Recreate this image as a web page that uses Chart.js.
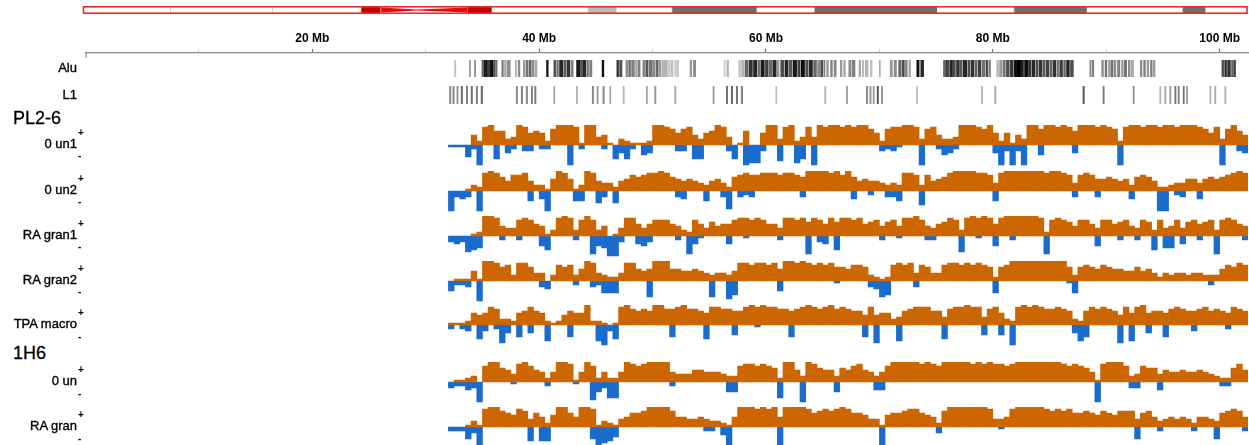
<!DOCTYPE html>
<html>
<head>
<meta charset="utf-8">
<title>Chromosome 15 signal tracks</title>
<script src="https://cdn.jsdelivr.net/npm/chart.js@4.4.1/dist/chart.umd.min.js"></script>
<style>
  html, body { margin: 0; padding: 0; background: #fff; }
  #page { position: relative; width: 1249px; height: 445px; overflow: hidden;
          font-family: "Liberation Sans", Arial, sans-serif; color: #000; }
  #page canvas { position: absolute; left: 0; }
  .lbl  { position: absolute; right: 1172px; font-size: 13px; line-height: 16px; white-space: nowrap;
          -webkit-text-stroke: 0.35px #000; }
  .sign { position: absolute; left: 78px; font-size: 10px; font-weight: bold; line-height: 10px; }
  .group { position: absolute; left: 13px; font-size: 18px; line-height: 22px; white-space: nowrap;
           -webkit-text-stroke: 0.3px #000; }
</style>
</head>
<body>
<div id="page"></div>
<script>
// ---- genome coordinates (Mb) ----
const X_MAX = 102.5;
const BIN_START = 32;      // first signal bin start
const BIN_SIZE = 0.5;      // signal bin width

// ---- axis ----
const axisStepMb = 10;
const axisLabelMb = [20, 40, 60, 80, 100];

// ---- ideogram bands [start, end, stain] ----
const ideoBands = [
  [0, 7.6, 'gneg'], [7.6, 16.6, 'gneg'], [16.6, 24.4, 'gneg'],
  [24.4, 26.15, 'acen'], [26.15, 29.3, 'acenTaper'], [29.3, 33.75, 'acenWiden'], [33.75, 35.95, 'acen'],
  [35.95, 44.4, 'gneg'], [44.4, 46.95, 'gpos25'], [46.95, 51.8, 'gneg'], [51.8, 59.3, 'gpos75'],
  [59.3, 64.35, 'gneg'], [64.35, 75.2, 'gpos75'], [75.2, 81.95, 'gneg'], [81.95, 88.4, 'gpos75'],
  [88.4, 96.8, 'gneg'], [96.8, 98.85, 'gpos75'], [98.85, 102.5, 'gneg']
];

// ---- repeat density features [start, end, density 0..1] ----
const aluFeatures = [
  [32.55,32.65,0.25],[33.85,33.95,0.4],[34.3,34.4,0.45],
  [34.95,35.1,0.6],[35.15,35.45,0.9],[35.5,35.65,0.75],[35.7,35.95,0.95],[36.0,36.1,0.7],[36.15,36.3,0.55],
  [36.7,36.85,0.5],[36.95,37.1,0.35],[37.2,37.45,0.45],[37.9,38.0,0.3],[38.15,38.3,0.45],
  [38.6,38.75,0.4],[38.85,39.0,0.55],[39.1,39.3,0.6],[39.4,39.55,0.45],[39.65,39.8,0.35],
  [40.65,40.8,0.9],
  [41.3,41.45,0.7],[41.55,41.7,0.55],[41.8,42.1,0.85],[42.2,42.35,0.65],[42.45,42.7,0.8],[42.8,43.0,0.5],
  [43.3,43.6,0.9],[43.65,43.8,0.7],[43.85,44.1,0.85],[44.2,44.35,0.55],[44.45,44.65,0.5],
  [45.55,45.7,0.95],[46.85,47.0,0.8],[47.1,47.3,0.7],
  [47.65,47.8,0.45],[47.9,48.05,0.6],[48.15,48.4,0.5],[48.5,48.6,0.35],[48.7,48.9,0.5],
  [49.15,49.3,0.5],[49.4,49.6,0.65],[49.7,49.95,0.55],[50.0,50.2,0.45],[50.3,50.5,0.6],[50.6,50.75,0.4],[50.85,51.3,0.3],
  [51.35,51.5,0.2],[51.6,51.8,0.25],[51.95,52.3,0.2],
  [53.3,53.45,0.4],[53.6,53.8,0.45],[56.3,56.4,0.2],[56.55,56.7,0.3],
  [57.6,57.75,0.25],[57.85,58.05,0.3],[58.15,58.4,0.6],[58.5,58.8,0.8],[58.9,59.2,0.85],[59.3,59.45,0.55],
  [59.55,59.85,0.9],[59.95,60.2,0.75],[60.3,60.5,0.6],[60.6,60.9,0.85],[61.0,61.15,0.4],[61.3,61.6,0.7],
  [61.7,61.95,0.85],[62.05,62.3,0.65],[62.4,62.7,0.9],[62.8,63.0,0.75],[63.1,63.4,0.95],[63.5,63.7,0.7],
  [63.8,64.1,0.85],[64.2,64.45,0.6],[64.55,64.8,0.45],
  [64.85,65.0,0.7],[65.1,65.2,0.5],[65.35,65.5,0.4],[65.7,65.85,0.5],[66.0,66.2,0.45],[66.55,66.7,0.4],
  [66.85,67.0,0.35],[67.3,67.5,0.45],[67.6,67.85,0.5],[68.2,68.35,0.35],[68.5,68.6,0.3],[68.75,69.0,0.3],
  [69.2,69.35,0.25],[70.0,70.08,0.35],[70.95,71.15,0.4],[71.3,71.5,0.45],[71.7,71.9,0.6],[72.0,72.2,0.7],
  [72.3,72.45,0.5],[72.6,72.75,0.35],[73.3,73.5,0.95],[73.65,73.9,0.85],
  [75.65,75.85,0.6],[75.9,76.1,0.75],[76.2,76.45,0.85],[76.5,76.7,0.7],[76.8,77.05,0.8],[77.1,77.3,0.65],
  [77.4,77.7,0.85],[77.8,78.0,0.7],[78.1,78.35,0.8],[78.45,78.6,0.6],[78.7,78.95,0.75],[79.05,79.3,0.55],
  [79.4,79.55,0.7],[79.65,79.8,0.5],
  [80.35,80.5,0.3],[80.6,80.8,0.4],[80.9,81.1,0.55],[81.2,81.45,0.7],[81.55,81.8,0.8],[81.9,82.1,0.95],
  [82.15,82.45,1.0],[82.5,82.7,0.9],[82.8,83.1,0.95],[83.15,83.35,0.8],[83.45,83.7,0.85],[83.8,84.0,0.7],
  [84.1,84.35,0.8],[84.45,84.6,0.65],[84.7,84.95,0.75],[85.05,85.2,0.6],[85.3,85.55,0.8],[85.65,85.8,0.55],
  [85.9,86.15,0.75],[86.25,86.4,0.6],[86.5,86.75,0.85],[86.85,87.1,0.7],
  [88.55,88.65,0.45],[88.75,88.9,0.5],
  [89.6,89.75,0.45],[89.9,90.05,0.55],[90.2,90.3,0.4],[90.4,90.6,0.55],[90.7,90.85,0.45],[91.0,91.2,0.5],
  [91.35,91.5,0.4],[91.6,91.8,0.55],[91.95,92.1,0.45],[92.2,92.4,0.35],
  [93.0,93.15,0.45],[93.3,93.45,0.5],[93.6,93.75,0.4],[93.9,94.05,0.5],[94.15,94.3,0.4],
  [100.2,100.35,0.7],[100.45,100.6,0.85],[100.7,100.95,0.8],[101.05,101.2,0.6],[101.25,101.4,0.75]
];

const l1Features = [
  [32.1,32.22,0.45],[32.4,32.5,0.5],[32.75,32.85,0.45],[33.12,33.25,0.55],[33.58,33.7,0.5],
  [34.0,34.12,0.55],[34.45,34.57,0.5],[34.88,35.02,0.55],
  [37.98,38.1,0.45],[38.42,38.54,0.5],[38.86,38.98,0.45],[39.3,39.42,0.5],[39.6,39.72,0.5],
  [41.28,41.38,0.35],[43.28,43.38,0.3],
  [44.68,44.8,0.45],[45.1,45.2,0.4],[45.62,45.74,0.45],[46.22,46.32,0.35],
  [47.4,47.5,0.3],[49.45,49.55,0.35],[50.18,50.3,0.4],[51.95,52.05,0.35],[55.33,55.43,0.4],
  [56.5,56.62,0.55],[56.94,57.06,0.6],[57.38,57.5,0.55],[57.82,57.94,0.5],[60.86,60.96,0.25],
  [65.18,65.28,0.3],[67.09,67.19,0.4],[68.85,68.97,0.45],[69.15,69.27,0.4],[69.45,69.55,0.4],
  [69.8,69.92,0.65],[70.18,70.28,0.45],[73.26,73.36,0.25],[79.0,79.1,0.3],[80.17,80.27,0.35],
  [87.95,88.07,0.65],[89.72,89.82,0.55],[92.37,92.47,0.45],
  [94.72,94.82,0.3],[95.16,95.26,0.35],[95.6,95.7,0.4],[96.05,96.15,0.55],[96.34,96.44,0.5],
  [96.78,96.88,0.55],[97.07,97.17,0.4],[99.13,99.23,0.3],[99.57,99.67,0.35],[100.45,100.55,0.3]
];

// ---- signal tracks: positive part per 0.5 Mb bin from 32 Mb, negative dips as [binStartMb, value] ----
const pl26Un1Up = [
  0,0,0,0,5,2,9,10,7,7, 3,4,10,9,6,7,6,2,8,10, 10,10,9,1,10,10,4,5,1,0, 3,2,1,1,1,2,10,10,9,8,
  6,8,9,5,3,6,7,10,9,4, 0,1,7,0,0,6,10,10,3,9, 10,2,4,9,4,10,9,10,10,9, 10,9,10,10,8,6,2,8,9,9,
  10,10,9,3,8,9,5,3,3,4, 10,10,10,9,8,10,6,2,6,1, 5,3,10,10,8,10,10,9,10,9, 7,10,10,10,9,10,9,8,2,9,
  10,10,9,10,10,9,10,10,9,10, 10,10,9,8,6,9,3,8,10,7, 5
];
const pl26Un1Down = [
  [32,-1],[32.5,-1],[33,-1],[33.5,-6],[34,-2],[34.5,-10],[36,-7],[37,-4],[37.5,-2],[38.5,-3],[39,-3],
  [40,-2],[40.5,-2],[42.5,-10],[43.5,-2],[45.5,-2],[46.5,-7],[47,-4],[47.5,-7],[48,-2],[49,-5],[49.5,-4],
  [52,-3],[52.5,-3],[53.5,-7],[54,-7],[56.5,-3],[57,-7],[58,-10],[58.5,-9],[59,-9],[59.5,-3],[61,-8],
  [62.5,-9],[63,-7],[64,-10],[70,-3],[70.5,-2],[71,-3],[71.5,-1],[73.5,-10],[75,-2],[75.5,-5],[76,-4],
  [76.5,-2],[80,-4],[80.5,-10],[81,-3],[81.5,-10],[82,-3],[82.5,-10],[84,-5],[87,-4],[91,-10],[100,-10],
  [101.5,-3],[102,-4]
];

const pl26Un2Up = [
  0,0,0,1,3,2,9,10,9,7, 5,8,8,9,5,3,3,1,6,10, 9,6,1,3,10,9,5,4,4,2, 5,6,8,7,8,9,9,10,9,7,
  6,5,6,5,4,3,5,6,4,2, 7,8,9,8,8,9,9,9,8,9, 9,8,7,10,10,10,10,9,10,8, 10,7,5,6,5,5,4,3,4,3,
  9,9,8,3,8,5,6,7,9,10, 10,10,10,9,9,8,4,9,10,10, 10,10,10,10,10,9,10,10,9,8, 4,8,9,8,6,6,7,6,5,6,
  3,7,8,7,5,2,2,3,4,4, 6,6,4,6,7,6,7,8,9,10, 9
];
const pl26Un2Down = [
  [32,-10],[32.5,-3],[33,-4],[33.5,-3],[34.5,-10],[39,-5],[40,-4],[40.5,-10],[43,-5],[43.5,-5],[45,-6],
  [45.5,-3],[46.5,-6],[52,-3],[52.5,-4],[54.5,-5],[56,-3],[56.5,-9],[57.5,-3],[58,-2],[58.5,-3],[63,-3],
  [67.5,-4],[69,-2],[70.5,-3],[71,-3],[71.5,-5],[73.5,-7],[80,-5],[87,-3],[89,-3],[92,-4],[94.5,-10],
  [95,-10],[96,-2],[96.5,-3],[98,-4]
];

const pl26Gran1Up = [
  0,0,0,0,1,2,10,10,9,5, 4,4,8,9,8,6,5,1,3,9, 10,9,3,8,10,8,3,5,0,1, 4,9,9,6,4,6,8,8,8,6,
  5,3,2,8,6,4,7,5,6,6, 8,9,9,8,9,8,6,6,4,9, 9,8,9,7,9,8,6,9,7,9, 9,8,9,6,7,8,5,7,8,5,
  9,9,10,8,5,4,6,7,9,8, 3,9,10,9,10,9,6,9,10,10, 10,10,10,10,9,2,8,9,8,7, 5,8,8,6,4,8,8,6,7,8,
  5,4,8,7,3,8,4,5,8,4, 7,8,6,7,8,3,8,9,8,6, 5
];
const pl26Gran1Down = [
  [32,-3],[32.5,-4],[33,-3],[33.5,-8],[34,-7],[34.5,-6],[36.5,-2],[38,-2],[40,-5],[40.5,-7],[43,-2],
  [44.5,-9],[45,-5],[45.5,-6],[46,-10],[46.5,-10],[47,-3],[48.5,-4],[49,-5],[49.5,-3],[52,-2],[53,-9],
  [53.5,-4],[54,-1],[56.5,-4],[58,-1],[61,-2],[63.5,-9],[64.5,-3],[65,-4],[66,-7],[70,-2],[71.5,-1],
  [74,-2],[74.5,-2],[77,-8],[78.5,-1],[80,-5],[81.5,-2],[84.5,-9],[89,-5],[91,-2],[92.5,-2],[94,-7],
  [95,-6],[95.5,-6],[96.5,-4],[98,-2],[99.5,-9],[102,-2]
];

const pl26Gran2Up = [
  0,1,1,1,5,1,10,10,9,7, 8,3,9,9,7,4,4,0,3,8, 7,8,3,6,10,9,4,3,2,2, 4,9,9,6,5,6,10,10,10,6,
  6,5,5,6,5,4,3,4,4,3, 5,9,9,8,9,9,8,9,6,10, 10,9,10,9,8,9,8,9,7,7, 6,8,8,7,3,2,1,2,8,9,
  8,9,4,8,7,4,4,8,9,9, 8,9,8,9,8,7,2,7,8,10, 10,10,10,10,10,10,10,10,10,7, 3,7,8,7,6,8,7,6,6,5,
  5,7,5,6,4,2,4,3,4,4, 3,4,4,3,3,3,6,8,7,9, 8
];
const pl26Gran2Down = [
  [32,-5],[32.5,-2],[33,-2],[33.5,-3],[34.5,-10],[40,-3],[40.5,-4],[43,-2],[44.5,-3],[45,-2],[45.5,-6],
  [46,-6],[46.5,-6],[49.5,-8],[55,-8],[56.5,-9],[57,-7],[61,-5],[66,-1],[69,-3],[69.5,-4],[70,-8],
  [70.5,-7],[73,-3],[80,-6],[86.5,-1],[87,-6],[99,-2]
];

const pl26TpaUp = [
  1,1,1,2,6,5,6,9,8,3, 3,2,6,7,9,7,6,2,1,2, 5,7,6,6,10,2,2,1,0,1, 9,10,8,7,8,7,10,10,8,8,
  9,10,8,8,7,6,9,9,8,8, 7,7,9,10,9,10,9,9,8,8, 7,8,9,10,9,8,9,10,8,9, 8,7,7,5,9,5,6,6,3,4,
  7,8,9,9,9,7,7,4,8,9, 9,10,9,9,4,8,9,6,3,2, 9,10,9,10,9,8,8,9,8,7, 3,2,7,9,8,9,8,7,5,9,
  6,9,10,6,7,7,6,8,9,8, 7,7,8,9,7,8,7,6,9,8, 7
];
const pl26TpaDown = [
  [32,-2],[33,-2],[33.5,-3],[34.5,-7],[35,-3],[36,-2],[36.5,-9],[37,-4],[38,-6],[39,-4],[40.5,-8],
  [42.5,-6],[45,-8],[45.5,-10],[46,-3],[46.5,-7],[51.5,-6],[54.5,-7],[57,-5],[59,-1],[62,-6],[68.5,-6],
  [69.5,-9],[71.5,-8],[75.5,-7],[79,-5],[80.5,-5],[81.5,-10],[87,-4],[87.5,-8],[88,-6],[91,-9],[92,-8],
  [93.5,-4],[95,-6],[97.5,-3],[100.5,-2]
];

const h16Un0Up = [
  0,1,1,2,3,0,8,10,10,7, 6,4,9,10,8,6,5,2,5,10, 10,9,1,5,10,8,2,5,2,2, 5,10,9,8,9,10,10,10,10,5,
  4,4,4,6,6,5,5,5,4,3, 3,8,9,9,8,9,8,7,2,10, 10,6,3,10,9,7,6,6,3,7, 6,8,9,6,5,3,5,8,10,10,
  10,10,10,9,10,9,8,10,10,10, 10,10,9,10,9,10,9,9,8,9, 10,10,10,10,10,10,10,10,9,8, 9,8,7,5,1,9,10,10,10,8,
  3,4,8,7,7,4,6,5,5,6, 5,5,6,5,4,3,2,2,7,9, 6
];
const h16Un0Down = [
  [32,-3],[32.5,-2],[33,-2],[33.5,-4],[34,-3],[34.5,-10],[37.5,-1],[40.5,-2],[43,-1],[44.5,-9],[45,-5],
  [45.5,-3],[46,-8],[46.5,-8],[51.5,-2],[56.5,-5],[57,-5],[61,-8],[63,-10],[66,-5],[69.5,-4],[70,-4],
  [89,-10],[92,-3],[92.5,-3],[94.5,-4],[100,-2],[100.5,-2]
];

const h16GranUp = [
  0,0,0,1,3,1,9,10,10,8, 7,6,9,8,4,7,5,2,6,10, 10,7,5,10,10,9,1,3,2,1, 4,5,7,7,8,10,10,10,10,8,
  5,5,4,4,5,4,3,3,2,1, 5,10,10,10,9,10,9,10,5,10, 10,10,10,9,7,8,9,8,9,10, 9,7,7,6,4,4,1,6,7,7,
  8,9,9,7,6,5,2,8,10,10, 10,10,10,10,10,9,4,4,5,9, 10,10,10,10,10,9,8,9,8,9, 7,7,8,7,6,8,7,6,8,8,
  8,4,7,8,5,3,4,5,4,5, 4,2,5,5,4,3,7,8,9,8, 5
];
const h16GranDown = [
  [32,-2],[32.5,-2],[33,-2],[33.5,-6],[34,-3],[34.5,-10],[39,-7],[40,-7],[40.5,-7],[44.5,-6],[45,-10],
  [45.5,-8],[46,-7],[46.5,-5],[54.5,-2],[55,-2],[56,-4],[56.5,-9],[61,-9],[70,-10],[75,-3],[80.5,-1],
  [92.5,-6],[94.5,-2],[97.5,-2],[99.5,-6],[102,-2]
];

// ---- track names ----
const groupNames = ['PL2-6', '1H6'];
const trackNames = ['0 un1', '0 un2', 'RA gran1', 'RA gran2', 'TPA macro', '0 un', 'RA gran'];
const trackUp   = [pl26Un1Up, pl26Un2Up, pl26Gran1Up, pl26Gran2Up, pl26TpaUp, h16Un0Up, h16GranUp];
const trackDown = [pl26Un1Down, pl26Un2Down, pl26Gran1Down, pl26Gran2Down, pl26TpaDown, h16Un0Down, h16GranDown];

// ---- layout & style ----
const W = 1249;
const PAD = { left: 85.5, right: 1 };
const FONT = '"Liberation Sans", Arial, sans-serif';
const ORANGE = '#cc6600';
const BLUE = '#1a6ccc';
const STAIN = { gneg: '#ffffff', gpos25: '#bdbdbd', gpos75: '#6f6f6f', acen: '#c40000',
                acenTaper: 'rgba(0,0,0,0)', acenWiden: 'rgba(0,0,0,0)' };
const trackBaseline = [144.5, 190.5, 235.5, 280.5, 325, 382, 427];
const groupCenter = [117.5, 353];

const page = document.getElementById('page');

function addCanvas(top, height) {
  const c = document.createElement('canvas');
  c.width = W; c.height = height;
  c.style.top = top + 'px';
  c.style.width = W + 'px'; c.style.height = height + 'px';
  page.appendChild(c);
  return c;
}
function addText(cls, text, top) {
  const d = document.createElement('div');
  d.className = cls; d.textContent = text; d.style.top = top + 'px';
  page.appendChild(d);
  return d;
}
function gray(d) {
  const v = Math.round(255 * (1 - d));
  return `rgb(${v},${v},${v})`;
}
const quiet = {
  animation: false, responsive: false, events: [],
  plugins: { legend: { display: false }, tooltip: { enabled: false } }
};
// shared genome x scale (no category offset)
const genomeX = () => ({ type: 'linear', min: 0, max: X_MAX, offset: false, display: false,
                         grid: { offset: false } });

// ---- ideogram ----
const ideoDraw = {
  id: 'ideoDraw',
  afterDatasetsDraw(chart) {
    const { ctx, chartArea: a, scales: { x } } = chart;
    const mid = (a.top + a.bottom) / 2;
    const inTop = a.top + 1.5, inBot = a.bottom - 1.5;
    ctx.save();
    ideoBands.forEach(([s, e, stain]) => {
      if (stain !== 'acenTaper' && stain !== 'acenWiden') return;
      const xs = x.getPixelForValue(s), xe = x.getPixelForValue(e);
      ctx.fillStyle = '#e01010';
      ctx.beginPath();
      if (stain === 'acenTaper') {
        ctx.moveTo(xs, inTop); ctx.lineTo(xe, mid - 0.5); ctx.lineTo(xe, mid + 0.5); ctx.lineTo(xs, inBot);
      } else {
        ctx.moveTo(xs, mid - 0.5); ctx.lineTo(xe, inTop); ctx.lineTo(xe, inBot); ctx.lineTo(xs, mid + 0.5);
      }
      ctx.closePath(); ctx.fill();
    });
    ctx.strokeStyle = '#ee2a2a';
    ctx.lineWidth = 1.6;
    ctx.strokeRect(a.left - 1, a.top + 0.8, a.right - a.left + 0.5, a.bottom - a.top - 1.6);
    ctx.restore();
  }
};
new Chart(addCanvas(0, 20), {
  type: 'bar',
  data: {
    labels: ['chr'],
    datasets: [{
      data: ideoBands.map(([s, e]) => ({ x: [s, e], y: 'chr' })),
      backgroundColor: ideoBands.map(b => STAIN[b[2]]),
      borderColor: ideoBands.map(b => b[2] === 'gneg' ? '#c8c8c8' : 'rgba(0,0,0,0)'),
      borderWidth: { left: 0, right: 1, top: 0, bottom: 0 },
      borderSkipped: false,
      barPercentage: 1, categoryPercentage: 1
    }]
  },
  options: Object.assign({}, quiet, {
    indexAxis: 'y',
    layout: { padding: { left: PAD.left - 1, right: PAD.right + 0.5, top: 6, bottom: 6 } },
    scales: { x: genomeX(), y: { type: 'category', display: false } }
  }),
  plugins: [ideoDraw]
});

// ---- coordinate axis ----
const startTick = {
  id: 'startTick',
  afterDraw(chart) {
    const { ctx, chartArea: a } = chart;
    ctx.save();
    ctx.strokeStyle = '#8a8a8a'; ctx.lineWidth = 1.2;
    ctx.beginPath(); ctx.moveTo(a.left + 0.6, a.top); ctx.lineTo(a.left + 0.6, a.top + 5); ctx.stroke();
    ctx.restore();
  }
};
new Chart(addCanvas(14, 60), {
  type: 'scatter',
  data: { datasets: [] },
  options: Object.assign({}, quiet, {
    layout: { padding: { left: PAD.left, right: PAD.right, top: 17.5, bottom: 0 } },
    scales: {
      x: {
        type: 'linear', position: 'top', min: 0, max: X_MAX, offset: false,
        ticks: {
          stepSize: axisStepMb, includeBounds: false, autoSkip: false, maxRotation: 0, padding: 3,
          color: '#000', font: { family: FONT, size: 12, weight: 'bold' },
          callback: v => axisLabelMb.includes(v) ? `${v} Mb` : ''
        },
        grid: {
          drawOnChartArea: false, drawTicks: true, tickLength: 4, tickWidth: 1.2, offset: false,
          tickColor: c => {
            const v = c.tick ? c.tick.value : 0;
            if (v > 0 && axisLabelMb.includes(v)) return '#777';
            if (v > 0 && v % axisStepMb === 0) return '#d4d4d4';
            return 'rgba(0,0,0,0)';
          }
        },
        border: { display: true, color: '#8a8a8a', width: 1.3 }
      },
      y: { display: false, min: 0, max: 1 }
    }
  }),
  plugins: [startTick]
});

// ---- repeat tracks ----
function featureTrack(top, height, name, feats) {
  new Chart(addCanvas(top, height), {
    type: 'bar',
    data: {
      labels: [name],
      datasets: [{
        data: feats.map(([s, e]) => ({ x: [s, e], y: name })),
        backgroundColor: feats.map(f => gray(f[2])),
        barPercentage: 1, categoryPercentage: 1
      }]
    },
    options: Object.assign({}, quiet, {
      indexAxis: 'y',
      layout: { padding: { left: PAD.left, right: PAD.right, top: 0, bottom: 0 } },
      scales: { x: genomeX(), y: { type: 'category', display: false } }
    })
  });
  addText('lbl', name, top + height / 2 - 8.5);
}
featureTrack(60, 17, 'Alu', aluFeatures);
featureTrack(86, 18, 'L1', l1Features);

// ---- signal tracks ----
function signalTrack(baseline, name, up, down) {
  const upPts = up.map((v, i) => ({ x: BIN_START + BIN_SIZE * (i + 0.5), y: v })).filter(p => p.y > 0);
  const dnPts = down.map(([mb, v]) => ({ x: mb + BIN_SIZE / 2, y: v }));
  new Chart(addCanvas(baseline - 20, 42), {
    type: 'bar',
    data: {
      datasets: [
        { data: upPts, backgroundColor: ORANGE },
        { data: dnPts, backgroundColor: BLUE }
      ]
    },
    options: Object.assign({}, quiet, {
      layout: { padding: { left: PAD.left, right: PAD.right, top: 0, bottom: 0 } },
      datasets: { bar: { barPercentage: 1, categoryPercentage: 1, grouped: false } },
      scales: {
        x: genomeX(),
        y: { type: 'linear', min: -11, max: 10, display: false }
      }
    })
  });
  addText('lbl', name, baseline - 9);
  addText('sign', '+', baseline - 17);
  addText('sign', '-', baseline + 6.5);
}

groupNames.forEach((g, i) => addText('group', g, groupCenter[i] - 11));
trackNames.forEach((n, i) => signalTrack(trackBaseline[i], n, trackUp[i], trackDown[i]));
</script>
</body>
</html>
